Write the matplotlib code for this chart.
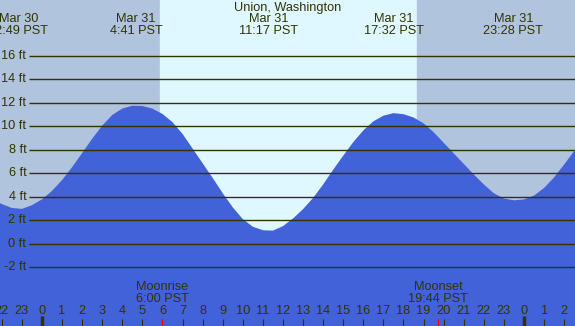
import numpy as np
import matplotlib.pyplot as plt

# tide heights (ft), every half hour from Mar 30 21:30
hours = np.arange(-2.5, 27.01, 0.5)
height = [3.85, 3.38, 3.05, 2.97, 3.28, 3.78, 4.5, 5.42, 6.52, 7.72,
          8.94, 10.06, 10.96, 11.51, 11.75, 11.73, 11.5, 11.05, 10.35, 9.35,
          8.1, 6.85, 5.6, 4.3, 3.1, 2.1, 1.45, 1.15, 1.12, 1.5,
          2.15, 2.95, 3.9, 5.05, 6.3, 7.5, 8.65, 9.65, 10.42, 10.9,
          11.12, 11.03, 10.75, 10.25, 9.5, 8.6, 7.7, 6.8, 5.9, 5.05,
          4.3, 3.85, 3.7, 3.77, 4.1, 4.75, 5.65, 6.75, 7.9, 9.0]

# high / low tide labels
ext_hour = [-1.183, 4.683, 11.283, 17.533, 23.467]
ext_date = ['Mar 30', 'Mar 31', 'Mar 31', 'Mar 31', 'Mar 31']
ext_time = ['22:49 PST', '4:41 PST', '11:17 PST', '17:32 PST', '23:28 PST']

sunrise = 5.88
sunset = 18.67
moon_hour = [6.0, 19.733]
moon_name = ['Moonrise', 'Moonset']
moon_time = ['6:00 PST', '19:44 PST']

grid_ft = [16, 14, 12, 10, 8, 6, 4, 2, 0, -2]
hour_ticks = np.arange(-2, 27)

night_col = '#B0C4DE'
day_col = '#DFF8FF'
water_col = '#4162D8'
ink = '#333300'

plt.rcParams['font.family'] = ['Liberation Sans', 'DejaVu Sans']

fig = plt.figure(figsize=(5.75, 3.26), dpi=100)
ax = fig.add_axes([0, 0, 1, 1])
x0, x1 = -2.09, 26.54
ax.set_xlim(x0, x1)
ax.set_ylim(-7.0, 20.75)
ax.axis('off')

# day / night background
ax.axvspan(x0, sunrise, color=night_col, zorder=0)
ax.axvspan(sunrise, sunset, color=day_col, zorder=0)
ax.axvspan(sunset, x1, color=night_col, zorder=0)

ax.fill_between(hours, height, -10, color=water_col, lw=0, zorder=1)

# height grid lines
ax.hlines(grid_ft, -0.65, x1, color=ink, lw=1.0, zorder=2)
for g in grid_ft:
    ax.text(-0.78, g, f'{g} ft', ha='right', va='center', fontsize=9.2, color=ink)

# title and tide extreme labels
ax.text(0.5, 1 - 8 / 326, 'Union, Washington', transform=ax.transAxes,
        ha='center', va='center', fontsize=9.2, color=ink)
tr = ax.get_xaxis_transform()
for h, d, t in zip(ext_hour, ext_date, ext_time):
    ax.text(h, 1 - 19 / 326, d, transform=tr, ha='center', va='center', fontsize=9.2, color=ink)
    ax.text(h, 1 - 31 / 326, t, transform=tr, ha='center', va='center', fontsize=9.2, color=ink)

# hour ticks along the bottom
ax.vlines(hour_ticks, 0, 7 / 326, transform=tr, color=ink, lw=0.8, zorder=3)
midnights = [h for h in hour_ticks if h % 24 == 0]
ax.vlines(midnights, 0, 10 / 326, transform=tr, color=ink, lw=2.5, zorder=3)
for h in hour_ticks:
    ax.text(h, 1 - 311.5 / 326, str(h % 24), transform=tr, ha='center', va='center',
            fontsize=9.2, color=ink)

# moon rise / set
ax.vlines(moon_hour, 0, 7 / 326, transform=tr, color='red', lw=0.9, zorder=4)
for h, n, t in zip(moon_hour, moon_name, moon_time):
    ax.text(h, 1 - 287 / 326, n, transform=tr, ha='center', va='center', fontsize=9.2, color=ink)
    ax.text(h, 1 - 299 / 326, t, transform=tr, ha='center', va='center', fontsize=9.2, color=ink)

fig.savefig('out.png', dpi=100)
